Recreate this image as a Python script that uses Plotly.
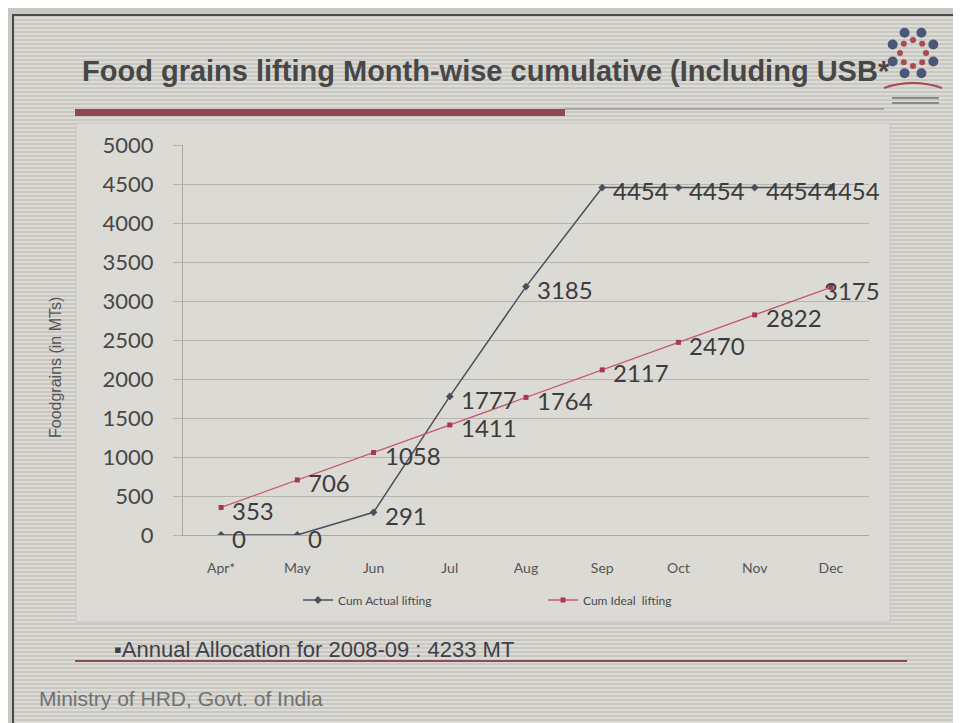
import math
import plotly.graph_objects as go

# ---------------- data ----------------
months = ["Apr*", "May", "Jun", "Jul", "Aug", "Sep", "Oct", "Nov", "Dec"]
actual = [0, 0, 291, 1777, 3185, 4454, 4454, 4454, 4454]
ideal = [353, 706, 1058, 1411, 1764, 2117, 2470, 2822, 3175]
y_ticks = [0, 500, 1000, 1500, 2000, 2500, 3000, 3500, 4000, 4500, 5000]
series_names = ["Cum Actual lifting", "Cum Ideal  lifting"]
title_text = "Food grains lifting Month-wise cumulative (Including USB*"
note_text = "Annual Allocation for 2008-09 : 4233 MT"
footer_text = "Ministry of HRD, Govt. of India"
y_title = "Foodgrains (in MTs)"

# ---------------- layout geometry (pixels) ----------------
W, H = 961, 723
L, R, T, B = 175, 861, 137, 527


def fx(px):
    return (px - L) / (R - L)


def fy(py):
    return (B - py) / (B - T)


OUTER_BG = "#c9c7c2"
STRIPE_C = "#dddbd6"
BOX_BG = "#dcdad5"
ACT_C = "#4a4f5c"
IDE_C = "#c25a70"
LABEL_C = "#3c3c3c"

fig = go.Figure()
fig.add_trace(go.Scatter(
    x=months, y=actual, name=series_names[0], mode="lines+markers",
    line=dict(color=ACT_C, width=1.5),
    marker=dict(symbol="diamond", size=6, color=ACT_C),
))
fig.add_trace(go.Scatter(
    x=months, y=ideal, name=series_names[1], mode="lines+markers",
    line=dict(color=IDE_C, width=1.3),
    marker=dict(symbol="square", size=5, color="#a8384f"),
))

annotations = []
label_font = dict(family="Lato, Carlito, sans-serif", size=24, color=LABEL_C)
for series in (actual, ideal):
    for i, v in enumerate(series):
        last = i == len(series) - 1
        annotations.append(dict(
            x=months[i], y=v, xref="x", yref="y", text=str(v),
            showarrow=False, xanchor="left", yanchor="middle",
            xshift=-9 if last else 9, yshift=-3, font=label_font,
        ))

# title and texts
annotations.append(dict(
    x=fx(478), y=fy(63), xref="paper", yref="paper", text="<b>" + title_text + "</b>",
    showarrow=False, xanchor="center", yanchor="middle",
    font=dict(family="Liberation Sans, Arial", size=29, color="#474747"),
))
annotations.append(dict(
    x=fx(104), y=fy(641), xref="paper", yref="paper", text="\u25aa" + note_text,
    showarrow=False, xanchor="left", yanchor="middle",
    font=dict(family="Liberation Sans, Arial", size=22, color="#3f3f4a"),
))
annotations.append(dict(
    x=fx(29), y=fy(690), xref="paper", yref="paper", text=footer_text,
    showarrow=False, xanchor="left", yanchor="middle",
    font=dict(family="Liberation Sans, Arial", size=21, color="#6f7273"),
))
annotations.append(dict(
    x=fx(47), y=fy(360), xref="paper", yref="paper", text=y_title, textangle=-90,
    showarrow=False, xanchor="center", yanchor="middle",
    font=dict(family="Liberation Sans, Arial", size=16, color="#555555"),
))

shapes = []
# scan stripes on the slide background
stripe_path = " ".join(
    f"M {fx(7)},{fy(yy)} H {fx(956)}" for yy in range(10, 718, 4)
)
shapes.append(dict(type="path", xref="paper", yref="paper", layer="below",
                   path=stripe_path, line=dict(color=STRIPE_C, width=2)))
# chart area box
shapes.append(dict(type="rect", xref="paper", yref="paper", layer="below",
                   x0=fx(68), x1=fx(882), y0=fy(115), y1=fy(614),
                   fillcolor=BOX_BG, line=dict(color="#c8c6c1", width=1)))
# outer slide border
shapes.append(dict(type="rect", xref="paper", yref="paper", layer="above",
                   x0=fx(5), x1=fx(957), y0=fy(7), y1=fy(719),
                   fillcolor="rgba(0,0,0,0)", line=dict(color="#4a4a4a", width=2)))
# red bar under title
shapes.append(dict(type="rect", xref="paper", yref="paper",
                   x0=fx(67), x1=fx(557), y0=fy(101), y1=fy(108),
                   fillcolor="#8c4a50", line=dict(width=0)))
shapes.append(dict(type="line", xref="paper", yref="paper",
                   x0=fx(557), x1=fx(876), y0=fy(101), y1=fy(101),
                   line=dict(color="#7c7c7c", width=1)))
# red line under annual allocation
shapes.append(dict(type="line", xref="paper", yref="paper",
                   x0=fx(67), x1=fx(899), y0=fy(653), y1=fy(653),
                   line=dict(color="#8c4a58", width=2)))

# logo (decorative)
cx, cy = 905, 45
for k in range(8):
    a = math.radians(k * 45 + 22.5)
    px, py = cx + 22 * math.cos(a), cy + 22 * math.sin(a)
    shapes.append(dict(type="circle", xref="paper", yref="paper",
                       x0=fx(px - 5), x1=fx(px + 5), y0=fy(py - 5), y1=fy(py + 5),
                       fillcolor="#4a5778", line=dict(width=0)))
    a2 = math.radians(k * 45)
    qx, qy = cx + 13 * math.cos(a2), cy + 13 * math.sin(a2)
    shapes.append(dict(type="circle", xref="paper", yref="paper",
                       x0=fx(qx - 3), x1=fx(qx + 3), y0=fy(qy - 3), y1=fy(qy + 3),
                       fillcolor="#a84a52", line=dict(width=0)))
shapes.append(dict(type="path", xref="paper", yref="paper",
                   path=f"M {fx(876)},{fy(80)} Q {fx(905)},{fy(70)} {fx(934)},{fy(80)}",
                   line=dict(color="#a84a52", width=2)))
shapes.append(dict(type="path", xref="paper", yref="paper",
                   path=f"M {fx(880)},{fy(78)} Q {fx(905)},{fy(72)} {fx(930)},{fy(78)}",
                   line=dict(color="#a84a52", width=1)))
for yy in (89, 94):
    shapes.append(dict(type="rect", xref="paper", yref="paper",
                       x0=fx(884), x1=fx(931), y0=fy(yy), y1=fy(yy + 2),
                       fillcolor="#8a8a8a", line=dict(width=0)))

fig.update_layout(
    width=W, height=H,
    margin=dict(l=L, r=W - R, t=T, b=H - B),
    paper_bgcolor=OUTER_BG, plot_bgcolor="rgba(0,0,0,0)",
    showlegend=True,
    legend=dict(orientation="h", x=fx(290), y=fy(592), xanchor="left", yanchor="middle",
                font=dict(family="Lato, sans-serif", size=12, color="#4a4a4a"),
                bgcolor="rgba(0,0,0,0)", entrywidth=200, itemwidth=30),
    xaxis=dict(type="category", range=[-0.5, 8.5], showgrid=False,
               showline=True, linecolor="#a9a7a2", linewidth=1, ticks="",
               tickfont=dict(family="Lato, sans-serif", size=14, color="#555555"),
               ticklabelstandoff=20, zeroline=False, fixedrange=True),
    yaxis=dict(range=[0, 5000], tickvals=y_ticks, showgrid=True,
               gridcolor="#b6b4af", gridwidth=1, showline=True,
               linecolor="#a9a7a2", linewidth=1, ticks="outside", ticklen=9,
               tickcolor="#b6b4af", zeroline=False,
               tickfont=dict(family="Lato, sans-serif", size=22, color="#474747"),
               ticklabelstandoff=15, fixedrange=True),
    annotations=annotations,
    shapes=shapes,
)

fig.write_html("out.html")
